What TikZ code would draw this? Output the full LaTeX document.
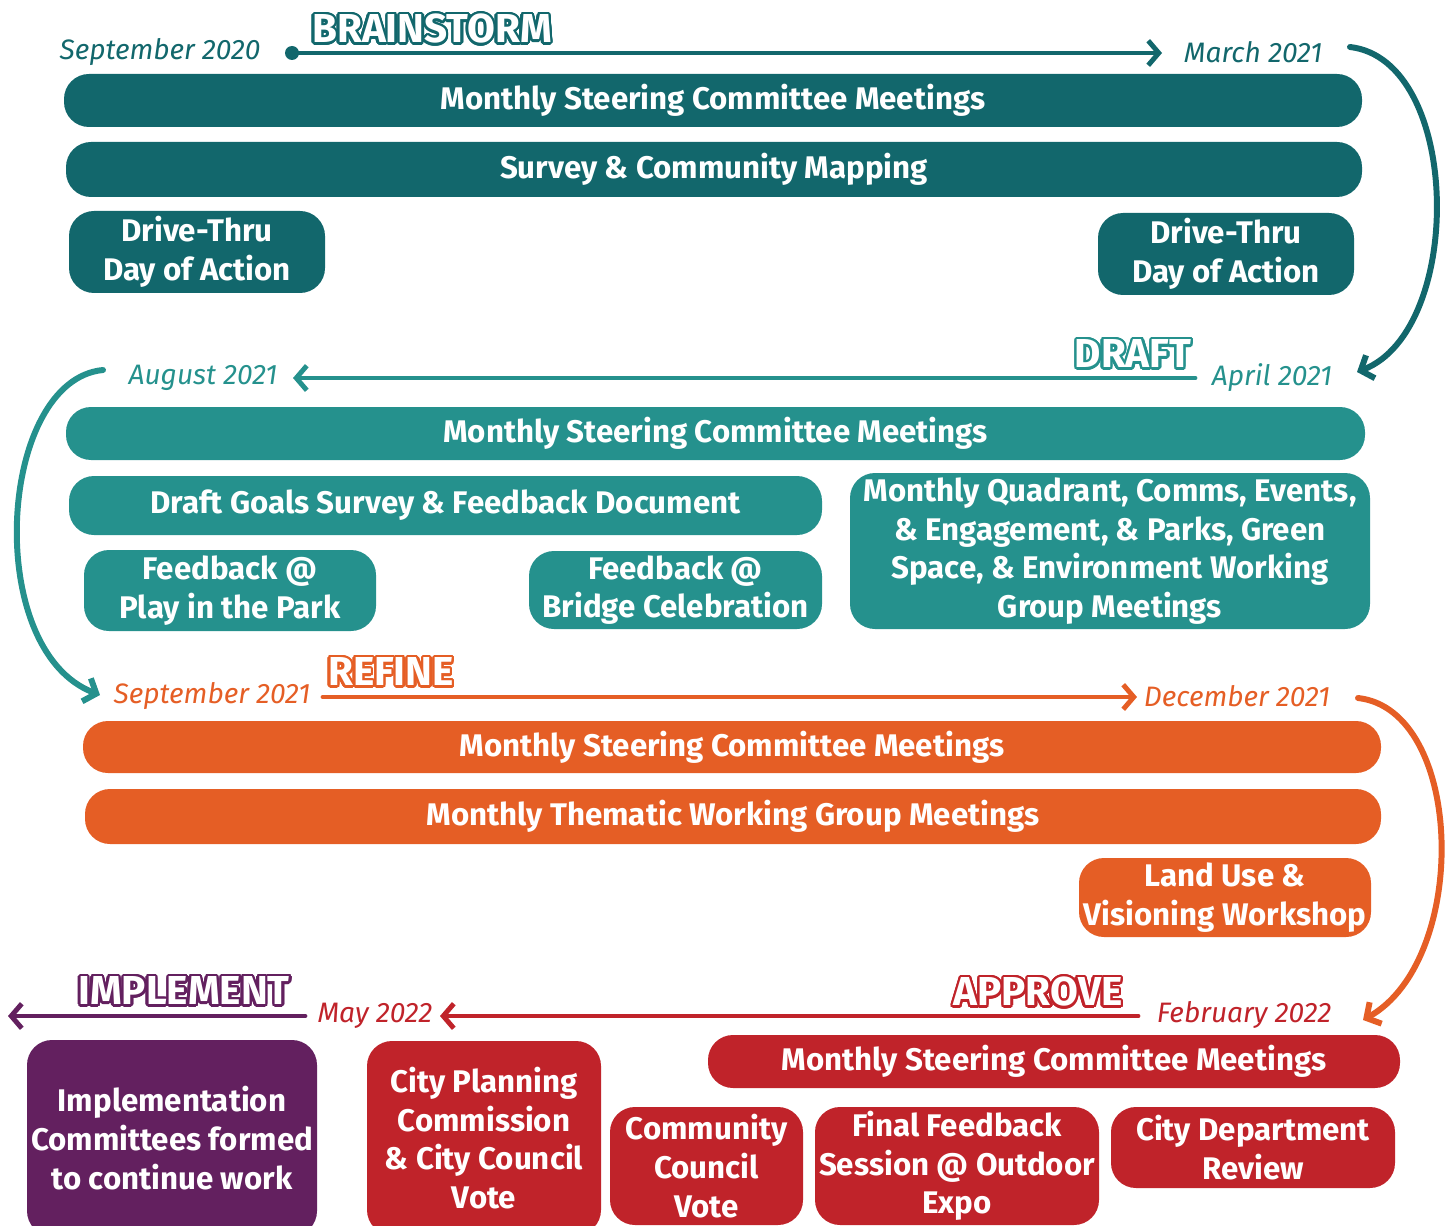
\documentclass[tikz,border=0pt]{standalone}
\usepackage{fontspec}
\setmainfont{Fira Sans}
\usepackage{contour}
\contourlength{1.3pt}
\contournumber{24}
\usetikzlibrary{arrows.meta}
\definecolor{cA}{RGB}{18,103,108}
\definecolor{cB}{RGB}{37,145,141}
\definecolor{cC}{RGB}{229,94,37}
\definecolor{cD}{RGB}{192,35,42}
\definecolor{cE}{RGB}{99,32,95}
\tikzset{
  box/.style={rounded corners=0.5cm, inner sep=0pt, text=white, font=\bfseries\fontsize{17.8}{22}\selectfont, align=center},
  datelbl/.style={font=\itshape\fontsize{16}{19}\selectfont, inner sep=0pt},
  phase/.style={font=\bfseries\fontsize{23}{25}\selectfont, inner sep=0pt},
  tl/.style={line width=2.8pt, line cap=round, -{Straight Barb[length=6pt,width=14pt]}},
  crv/.style={line width=3.4pt, line cap=round, -{Straight Barb[length=6pt,width=14pt]}}
}
\newcommand\bx[7]{\node[box, fill=#6, minimum width={(#4-#2)*0.02cm}, minimum height={(#5-#3)*0.02cm}] (#1) at ({(#2+#4)/2},{(#3+#5)/2}) {#7};}
\begin{document}
\begin{tikzpicture}[x=0.02cm,y=-0.02cm]
\useasboundingbox (0,0) rectangle (1453,1226);
% ---------- BRAINSTORM ----------
\node[datelbl, text=cA] (sep20) at (160,52) {September 2020};
\node[datelbl, text=cA] (mar21) at (1253,52) {March 2021};
\node[phase] (brain) at (432,30) {\contour{cA}{\textcolor{white}{BRAINSTORM}}};
\coordinate (a1s) at (292,53);
\coordinate (a1e) at (1162,53);
\fill[cA] (a1s) circle (0.14cm);
\draw[tl, cA] (a1s) -- (a1e);
\bx{b1}{64}{74}{1362}{127}{cA}{Monthly Steering Committee Meetings}
\bx{b2}{66}{142}{1362}{197}{cA}{Survey \& Community Mapping}
\bx{b3}{69}{211}{325}{293}{cA}{Drive-Thru\\Day of Action}
\bx{b4}{1098}{213}{1354}{295}{cA}{Drive-Thru\\Day of Action}
\coordinate (c1s) at (1350,47);
\coordinate (c1e) at (1357,372);
\draw[crv, cA] (c1s) .. controls (1462,60) and (1465,330) .. (c1e);
% ---------- DRAFT ----------
\node[datelbl, text=cB] (apr21) at (1272,378) {April 2021};
\node[datelbl, text=cB] (aug21) at (203,378) {August 2021};
\node[phase] (draft) at (1133,355) {\contour{cB}{\textcolor{white}{DRAFT}}};
\coordinate (a2s) at (1195,378);
\coordinate (a2e) at (293,378);
\draw[tl, cB] (a2s) -- (a2e);
\bx{d1}{66}{407}{1365}{460}{cB}{Monthly Steering Committee Meetings}
\bx{d2}{69}{476}{822}{535}{cB}{Draft Goals Survey \& Feedback Document}
\bx{d3}{84}{550}{376}{631}{cB}{Feedback @\\Play in the Park}
\bx{d4}{529}{551}{822}{629}{cB}{Feedback @\\Bridge Celebration}
\bx{d5}{850}{473}{1370}{629}{cB}{Monthly Quadrant, Comms, Events,\\\& Engagement, \& Parks, Green\\Space, \& Environment Working\\Group Meetings}
\coordinate (c2s) at (103,370);
\coordinate (c2e) at (100,695);
\draw[crv, cB] (c2s) .. controls (-2,380) and (-18,650) .. (c2e);
% ---------- REFINE ----------
\node[datelbl, text=cC] (sep21) at (212,696) {September 2021};
\node[datelbl, text=cC] (dec21) at (1237,696) {December 2021};
\node[phase] (refine) at (391,673) {\contour{cC}{\textcolor{white}{REFINE}}};
\coordinate (a3s) at (323,697);
\coordinate (a3e) at (1137,697);
\draw[tl, cC] (a3s) -- (a3e);
\bx{r1}{83}{721}{1381}{773}{cC}{Monthly Steering Committee Meetings}
\bx{r2}{85}{789}{1381}{844}{cC}{Monthly Thematic Working Group Meetings}
\bx{r3}{1079}{858}{1371}{937}{cC}{Land Use \&\\Visioning Workshop}
\coordinate (c3s) at (1358,698);
\coordinate (c3e) at (1363,1020);
\draw[crv, cC] (c3s) .. controls (1465,710) and (1470,960) .. (c3e);
% ---------- APPROVE ----------
\node[datelbl, text=cD] (feb22) at (1244,1015) {February 2022};
\node[datelbl, text=cD] (may22) at (375,1016) {May 2022};
\node[phase] (approve) at (1038,993) {\contour{cD}{\textcolor{white}{APPROVE}}};
\coordinate (a4s) at (1138,1016);
\coordinate (a4e) at (440,1016);
\draw[tl, cD] (a4s) -- (a4e);
\bx{p1}{708}{1035}{1400}{1088}{cD}{Monthly Steering Committee Meetings}
\bx{p2}{367}{1041}{601}{1235}{cD}{City Planning\\Commission\\\& City Council\\Vote}
\bx{p3}{610}{1107}{803}{1225}{cD}{Community\\Council\\Vote}
\bx{p4}{815}{1107}{1099}{1225}{cD}{Final Feedback\\Session @ Outdoor\\Expo}
\bx{p5}{1111}{1107}{1395}{1188}{cD}{City Department\\Review}
% ---------- IMPLEMENT ----------
\node[phase] (impl) at (184,992) {\contour{cE}{\textcolor{white}{IMPLEMENT}}};
\coordinate (a5s) at (305,1016);
\coordinate (a5e) at (8,1016);
\draw[tl, cE] (a5s) -- (a5e);
\bx{m1}{27}{1040}{317}{1236}{cE}{Implementation\\Committees formed\\to continue work}
\end{tikzpicture}
\end{document}
